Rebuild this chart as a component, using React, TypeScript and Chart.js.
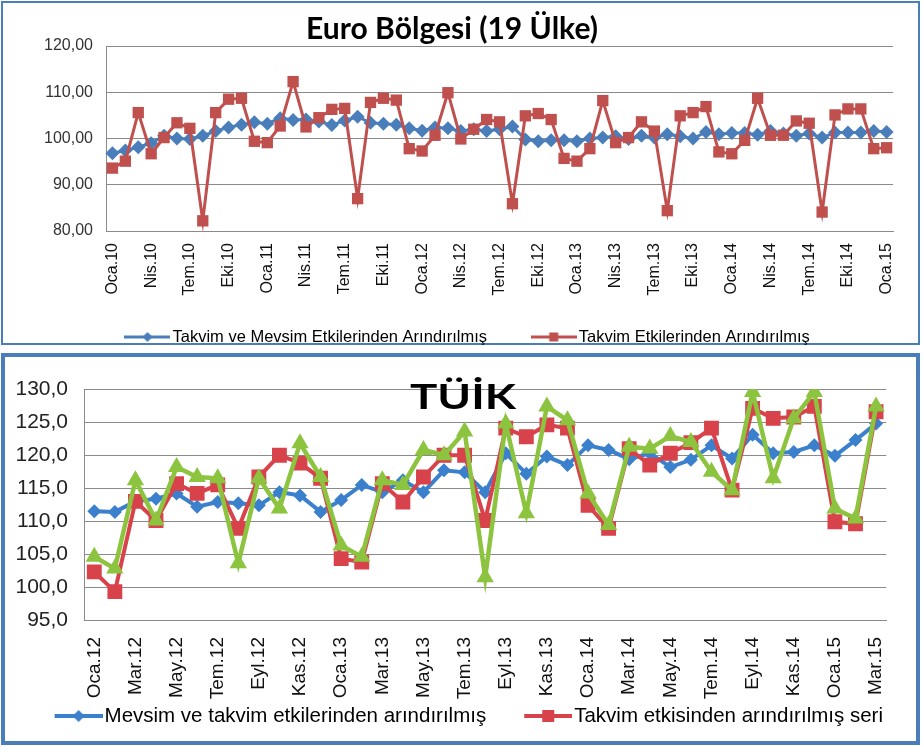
import React, { useEffect, useRef } from 'react';
import { Chart, registerables } from 'chart.js';

Chart.register(...registerables);

// ---------- data ----------
const MONTHS = ['Oca', 'Şub', 'Mar', 'Nis', 'May', 'Haz', 'Tem', 'Ağu', 'Eyl', 'Eki', 'Kas', 'Ara'];

function monthLabels(startYear: number, count: number): string[] {
  const out: string[] = [];
  for (let i = 0; i < count; i++) {
    out.push(MONTHS[i % 12] + '.' + String(startYear + Math.floor(i / 12)));
  }
  return out;
}

// Euro Bölgesi: Oca.10 – Oca.15
const euroCategories = monthLabels(10, 61);
const euroSeasonalAdj = [
  96.8, 97.4, 98.1, 99.0, 100.6, 100.0, 99.9, 100.6, 101.6, 102.4,
  103.0, 103.5, 103.2, 104.4, 104.0, 104.1, 103.7, 102.9, 103.9, 104.7,
  103.4, 103.2, 103.0, 102.2, 101.7, 102.4, 102.2, 101.6, 102.0, 101.6,
  102.0, 102.6, 99.8, 99.4, 99.6, 99.6, 99.4, 100.0, 100.2, 100.5,
  99.9, 100.6, 100.2, 100.9, 100.5, 100.0, 101.4, 100.9, 101.2, 101.2,
  100.8, 101.6, 101.1, 100.6, 101.1, 100.2, 101.3, 101.3, 101.3, 101.6, 101.4,
];
const euroCalendarAdj = [
  93.6, 95.1, 105.6, 96.7, 100.2, 103.4, 102.2, 82.2, 105.6, 108.5,
  108.7, 99.4, 99.1, 102.7, 112.3, 102.5, 104.5, 106.3, 106.5, 87.0,
  107.8, 108.7, 108.3, 97.8, 97.3, 100.7, 109.9, 99.9, 102.0, 104.1,
  103.6, 85.9, 104.9, 105.4, 104.1, 95.7, 95.1, 97.8, 108.2, 99.1,
  100.2, 103.6, 101.6, 84.4, 104.9, 105.6, 106.9, 97.1, 96.7, 99.6,
  108.7, 100.7, 100.7, 103.8, 103.3, 84.1, 105.1, 106.4, 106.4, 97.8, 98.0,
];
const euroTicks = [80, 90, 100, 110, 120];

// TÜİK: Oca.12 – Mar.15
const tuikCategories = monthLabels(12, 39);
const tuikSeasonalAdj = [
  111.5, 111.4, 113.0, 113.4, 114.2, 112.2, 112.9, 112.7, 112.4, 114.4,
  113.9, 111.4, 113.2, 115.5, 114.4, 116.2, 114.4, 117.7, 117.4, 114.4,
  120.3, 117.2, 119.8, 118.5, 121.5, 120.8, 119.4, 120.3, 118.2, 119.3,
  121.5, 119.5, 123.1, 120.3, 120.5, 121.5, 119.9, 122.3, 124.8,
];
const tuikCalendarAdj = [
  102.3, 99.3, 113.0, 110.1, 115.7, 114.2, 115.5, 108.9, 116.7, 120.0,
  118.8, 116.5, 104.3, 103.8, 115.7, 112.9, 116.7, 120.0, 120.0, 110.1,
  124.1, 122.8, 124.6, 124.1, 112.4, 108.9, 121.0, 118.5, 120.3, 121.9,
  124.1, 114.7, 127.1, 125.6, 125.8, 127.4, 109.9, 109.6, 126.6,
];
const tuikRaw = [
  104.6, 102.8, 116.2, 110.1, 118.2, 116.7, 116.5, 103.6, 116.5, 111.9,
  121.8, 116.7, 106.3, 104.6, 116.2, 115.5, 120.8, 120.0, 123.6, 101.5,
  124.8, 111.2, 127.4, 125.3, 114.2, 109.4, 121.3, 121.0, 122.9, 122.0,
  117.5, 114.7, 129.6, 116.5, 125.6, 129.6, 111.9, 110.4, 127.4,
];
const tuikTicks = [95, 100, 105, 110, 115, 120, 125, 130];

// ---------- styles ----------
const EURO_BLUE = '#4A7EBB';
const EURO_RED = '#C0504D';
const TUIK_BLUE = '#3B80CC';
const TUIK_RED = '#D8424A';
const TUIK_GREEN = '#8CC43F';
const GRID = '#8A8A8A';
const PANEL = '#4A7EBB';

// legend symbol: a line with a marker in the middle; optional transparent margin on the left
function makeLegendMarker(color: string, shape: 'diamond' | 'square', w: number, h: number, lw: number, size: number, leftPad = 0) {
  const c = document.createElement('canvas');
  c.width = w + leftPad;
  c.height = h;
  const g = c.getContext('2d')!;
  g.translate(leftPad, 0);
  g.strokeStyle = color;
  g.lineWidth = lw;
  g.beginPath();
  g.moveTo(0, h / 2);
  g.lineTo(w, h / 2);
  g.stroke();
  g.fillStyle = color;
  const cx = w / 2;
  const cy = h / 2;
  g.beginPath();
  if (shape === 'diamond') {
    g.moveTo(cx, cy - size);
    g.lineTo(cx + size, cy);
    g.lineTo(cx, cy + size);
    g.lineTo(cx - size, cy);
    g.closePath();
  } else {
    g.rect(cx - size / 2, cy - size / 2, size, size);
  }
  g.fill();
  return c;
}

const overlayTitle = {
  id: 'overlayTitle',
  afterDatasetsDraw(chart: any, _args: any, opts: any) {
    const ctx = chart.ctx;
    ctx.save();
    ctx.font = opts.font;
    ctx.fillStyle = opts.color;
    ctx.textAlign = 'center';
    ctx.textBaseline = 'alphabetic';
    const m = ctx.measureText(opts.text).width;
    ctx.translate(opts.x, opts.y);
    ctx.scale(opts.width / m, 1);
    ctx.fillText(opts.text, 0, 0);
    ctx.restore();
  },
};

// let tick labels overflow their (fixed-size) axis boxes instead of being clipped
const unclipLabels = {
  id: 'unclipLabels',
  afterLayout(chart: any) {
    const x = chart.scales.x;
    const y = chart.scales.y;
    if (x) x.bottom = chart.height;
    if (y) y.left = 0;
  },
};

const fmt = (d: number) => (v: any) => Number(v).toFixed(d).replace('.', ',');

export default function App() {
  const topRef = useRef<HTMLCanvasElement>(null);
  const botRef = useRef<HTMLCanvasElement>(null);

  useEffect(() => {
    const euroBlueMarker = makeLegendMarker(EURO_BLUE, 'diamond', 46, 14, 3, 5);
    const euroRedMarker = makeLegendMarker(EURO_RED, 'square', 46, 14, 3, 9);
    const tuikBlueMarker = makeLegendMarker(TUIK_BLUE, 'diamond', 48, 16, 4, 6, 40);
    const tuikRedMarker = makeLegendMarker(TUIK_RED, 'square', 48, 16, 4, 12, 40);

    const top = new Chart(topRef.current!, {
      type: 'line',
      data: {
        labels: euroCategories,
        datasets: [
          {
            label: 'Takvim Etkilerinden Arındırılmış',
            data: euroCalendarAdj,
            borderColor: EURO_RED,
            backgroundColor: EURO_RED,
            borderWidth: 3,
            pointStyle: 'rect',
            pointRadius: 8,
            pointBorderWidth: 0,
            pointBackgroundColor: EURO_RED,
            tension: 0,
            order: 0,
          },
          {
            label: 'Takvim ve Mevsim Etkilerinden Arındırılmış',
            data: euroSeasonalAdj,
            borderColor: EURO_BLUE,
            backgroundColor: EURO_BLUE,
            borderWidth: 3,
            pointStyle: 'rectRot',
            pointRadius: 7,
            pointBorderWidth: 0,
            pointBackgroundColor: EURO_BLUE,
            tension: 0,
            order: 1,
          },
        ],
      },
      options: {
        responsive: false,
        animation: false,
        layout: { padding: { left: 38.5, right: 20, top: 42, bottom: 0.75 } },
        scales: {
          x: {
            offset: true,
            grid: { display: false, drawTicks: false },
            border: { display: true, color: GRID },
            ticks: {
              autoSkip: false,
              maxRotation: 90,
              minRotation: 90,
              padding: 12,
              color: '#111',
              font: { family: 'Liberation Sans', size: 16 },
              callback: (_v: any, i: number) => (i % 3 === 0 ? euroCategories[i] : ''),
            },
            afterFit: (s: any) => {
              s.height = 47.75;
            },
          },
          y: {
            min: euroTicks[0],
            max: euroTicks[euroTicks.length - 1],
            afterBuildTicks: (s: any) => {
              s.ticks = euroTicks.map((v) => ({ value: v }));
            },
            grid: { color: GRID, drawTicks: false },
            border: { display: true, color: GRID },
            ticks: {
              autoSkip: false,
              padding: 13,
              color: '#333',
              font: { family: 'Liberation Sans', size: 16 },
              callback: fmt(2),
            },
            afterFit: (s: any) => {
              s.width = 63.5;
            },
          },
        },
        plugins: {
          tooltip: { enabled: false },
          legend: {
            position: 'bottom',
            labels: {
              usePointStyle: true,
              pointStyleWidth: 33.5,
              padding: 50,
              color: '#111',
              font: { family: 'Liberation Sans', size: 16.5 },
              generateLabels: () => [
                { text: 'Takvim ve Mevsim Etkilerinden Arındırılmış', pointStyle: euroBlueMarker, fillStyle: EURO_BLUE, strokeStyle: EURO_BLUE, lineWidth: 0, hidden: false, datasetIndex: 1 },
                { text: 'Takvim Etkilerinden Arındırılmış', pointStyle: euroRedMarker, fillStyle: EURO_RED, strokeStyle: EURO_RED, lineWidth: 0, hidden: false, datasetIndex: 0 },
              ],
            },
          },
          overlayTitle: {
            text: 'Euro Bölgesi (19 Ülke)',
            font: 'bold 30px Lato',
            color: '#000',
            x: 448,
            y: 35,
            width: 292,
          },
        } as any,
      },
      plugins: [overlayTitle, unclipLabels],
    } as any);

    const bot = new Chart(botRef.current!, {
      type: 'line',
      data: {
        labels: tuikCategories,
        datasets: [
          {
            label: 'Ham seri',
            data: tuikRaw,
            borderColor: TUIK_GREEN,
            backgroundColor: TUIK_GREEN,
            borderWidth: 4.5,
            pointStyle: 'triangle',
            pointRadius: 10,
            pointBorderWidth: 0,
            pointBackgroundColor: TUIK_GREEN,
            tension: 0,
            order: 0,
          },
          {
            label: 'Takvim etkisinden arındırılmış seri',
            data: tuikCalendarAdj,
            borderColor: TUIK_RED,
            backgroundColor: TUIK_RED,
            borderWidth: 4,
            pointStyle: 'rect',
            pointRadius: 10.5,
            pointBorderWidth: 0,
            pointBackgroundColor: TUIK_RED,
            tension: 0,
            order: 1,
          },
          {
            label: 'Mevsim ve takvim etkilerinden arındırılmış',
            data: tuikSeasonalAdj,
            borderColor: TUIK_BLUE,
            backgroundColor: TUIK_BLUE,
            borderWidth: 4,
            pointStyle: 'rectRot',
            pointRadius: 7,
            pointBorderWidth: 0,
            pointBackgroundColor: TUIK_BLUE,
            tension: 0,
            order: 2,
          },
        ],
      },
      options: {
        responsive: false,
        animation: false,
        layout: { padding: { left: 0.75, right: 11, top: 31.3, bottom: 0.75 } },
        scales: {
          x: {
            offset: true,
            grid: { display: false, drawTicks: false },
            border: { display: true, color: GRID },
            ticks: {
              autoSkip: false,
              maxRotation: 90,
              minRotation: 90,
              padding: 17,
              color: '#111',
              font: { family: 'Liberation Sans', size: 19 },
              callback: (_v: any, i: number) => (i % 2 === 0 ? tuikCategories[i] : ''),
            },
            afterFit: (s: any) => {
              s.height = 79.5;
            },
          },
          y: {
            min: tuikTicks[0],
            max: tuikTicks[tuikTicks.length - 1],
            afterBuildTicks: (s: any) => {
              s.ticks = tuikTicks.map((v) => ({ value: v }));
            },
            grid: { color: GRID, drawTicks: false },
            border: { display: true, color: GRID },
            ticks: {
              autoSkip: false,
              padding: 16,
              color: '#222',
              font: { family: 'Liberation Sans', size: 21 },
              callback: fmt(1),
            },
            afterFit: (s: any) => {
              s.width = 83.25;
            },
          },
        },
        plugins: {
          tooltip: { enabled: false },
          legend: {
            position: 'bottom',
            labels: {
              usePointStyle: true,
              pointStyleWidth: 71.5,
              padding: 6.25,
              color: '#111',
              font: { family: 'Liberation Sans', size: 20.5 },
              generateLabels: () => [
                { text: 'Mevsim ve takvim etkilerinden arındırılmış', pointStyle: tuikBlueMarker, fillStyle: TUIK_BLUE, strokeStyle: TUIK_BLUE, lineWidth: 0, hidden: false, datasetIndex: 2 },
                { text: 'Takvim etkisinden arındırılmış seri', pointStyle: tuikRedMarker, fillStyle: TUIK_RED, strokeStyle: TUIK_RED, lineWidth: 0, hidden: false, datasetIndex: 1 },
              ],
            },
          },
          overlayTitle: {
            text: 'TÜİK',
            font: 'bold 34px Lato',
            color: '#000',
            x: 463,
            y: 51,
            width: 106,
          },
        } as any,
      },
      plugins: [overlayTitle, unclipLabels],
    } as any);

    return () => {
      top.destroy();
      bot.destroy();
    };
  }, []);

  return (
    <div style={{ position: 'absolute', left: 0, top: 0, width: 924, height: 747, background: '#fff', overflow: 'hidden' }}>
      <div style={{ position: 'absolute', left: 1, top: 1, width: 919, height: 344, border: `2px solid ${PANEL}`, boxSizing: 'border-box' }} />
      <div style={{ position: 'absolute', left: 1, top: 353, width: 919, height: 392, border: `4px solid ${PANEL}`, boxSizing: 'border-box' }} />
      <canvas ref={topRef} width={914} height={352} style={{ position: 'absolute', left: 4, top: 4 }} />
      <canvas ref={botRef} width={916} height={379} style={{ position: 'absolute', left: 0, top: 358 }} />
    </div>
  );
}
